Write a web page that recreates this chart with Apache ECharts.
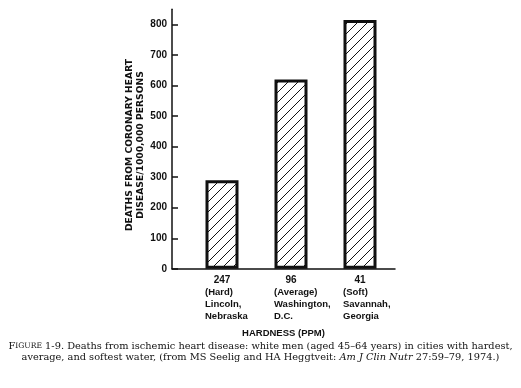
<!DOCTYPE html>
<html>
<head>
<meta charset="utf-8">
<script src="https://cdn.jsdelivr.net/npm/echarts@6/dist/echarts.min.js"></script>
<style>
html,body{margin:0;padding:0;background:#fff;}
#chart{width:521px;height:388px;}
</style>
</head>
<body>
<div id="chart"></div>
<script>
// ---- data ----
const hardness = ['247', '96', '41'];
const hardnessClass = ['(Hard)', '(Average)', '(Soft)'];
const cityLine1 = ['Lincoln,', 'Washington,', 'Savannah,'];
const cityLine2 = ['Nebraska', 'D.C.', 'Georgia'];
const deaths = [290, 620, 815];
const yTicks = [0, 100, 200, 300, 400, 500, 600, 700, 800];

// hatch pattern
const pc = document.createElement('canvas');
pc.width = 10; pc.height = 10;
const ctx = pc.getContext('2d');
ctx.fillStyle = '#fff'; ctx.fillRect(0, 0, 10, 10);
ctx.strokeStyle = '#111'; ctx.lineWidth = 1;
ctx.beginPath();
ctx.moveTo(-1, 11); ctx.lineTo(11, -1);
ctx.moveTo(-1, 1); ctx.lineTo(1, -1);
ctx.moveTo(9, 11); ctx.lineTo(11, 9);
ctx.stroke();

const font = 'Liberation Sans, Arial, Helvetica, sans-serif';
const wide = 'DejaVu Sans, Liberation Sans, sans-serif';
const serif = 'DejaVu Serif, Liberation Serif, serif';

const cap = {fontFamily: serif, fontSize: 9.8, fontWeight: 'normal', color: '#111', lineHeight: 11, align: 'center'};

const chart = echarts.init(document.getElementById('chart'), null, {renderer: 'canvas'});
chart.setOption({
  animation: false,
  backgroundColor: '#fff',
  title: {
    left: 'center',
    top: 336,
    text: '{sc1|F}{sc2|IGURE} {r|1-9. Deaths from ischemic heart disease: white men (aged 45\u201364 years) in cities with hardest,}\n' +
          '{r|average, and softest water, (from MS Seelig and HA Heggtveit: }{i|Am J Clin Nutr}{r| 27:59\u201379, 1974.)}',
    textStyle: {
      fontFamily: serif, fontSize: 9.8, fontWeight: 'normal', color: '#111', lineHeight: 11,
      rich: {
        sc1: cap,
        sc2: Object.assign({}, cap, {fontSize: 7.6}),
        r: cap,
        i: Object.assign({}, cap, {fontStyle: 'italic'})
      }
    }
  },
  grid: [
    {left: 187.5, width: 207, top: 9.2, bottom: 119.2},
    {left: 172, width: 223, top: 9.2, bottom: 119.2}
  ],
  xAxis: [
    {
      gridIndex: 0, type: 'category', data: hardness,
      axisLine: {show: false}, axisTick: {show: false},
      axisLabel: {
        margin: 5, interval: 0, hideOverlap: false,
        formatter: function (v, i) {
          return '{n|' + hardness[i] + '}\n{t|' + hardnessClass[i] + '}\n{t|' + cityLine1[i] + '}\n{t|' + cityLine2[i] + '}';
        },
        rich: {
          n: {width: 34, align: 'center', fontFamily: font, fontWeight: 'bold', fontSize: 10, color: '#111', lineHeight: 13},
          t: {width: 34, align: 'left', fontFamily: font, fontWeight: 'bold', fontSize: 9.5, color: '#111', lineHeight: 12}
        }
      }
    },
    {
      gridIndex: 1, type: 'value', min: 0, max: 1,
      axisLine: {show: true, lineStyle: {color: '#111', width: 1.5}},
      axisTick: {show: false}, axisLabel: {show: false}, splitLine: {show: false},
      name: 'HARDNESS (PPM)', nameLocation: 'middle', nameGap: 60,
      nameTextStyle: {fontFamily: font, fontWeight: 'bold', fontSize: 9.5, color: '#111'}
    }
  ],
  yAxis: [
    {gridIndex: 0, type: 'value', min: 0, max: 850, show: false},
    {
      gridIndex: 1, type: 'value', min: 0, max: 850, interval: 100,
      axisLine: {show: true, lineStyle: {color: '#111', width: 1.5}},
      axisTick: {show: true, inside: true, length: 6, customValues: yTicks, lineStyle: {color: '#111', width: 1.5}},
      axisLabel: {customValues: yTicks, margin: 5, fontFamily: font, fontWeight: 'bold', fontSize: 10, color: '#111'},
      splitLine: {show: false},
      name: 'DEATHS FROM CORONARY HEART\nDISEASE/1000,000 PERSONS',
      nameLocation: 'middle', nameRotate: 90, nameGap: 19,
      nameTextStyle: {fontFamily: wide, fontWeight: 'bold', fontSize: 9.2, color: '#111', lineHeight: 11, align: 'center', padding: [0, 12, 0, 0]}
    }
  ],
  series: [{
    type: 'bar', xAxisIndex: 0, yAxisIndex: 0,
    data: deaths, barWidth: 33,
    itemStyle: {color: {image: pc, repeat: 'repeat'}, borderColor: '#111', borderWidth: 3},
    z: 5
  }]
});
</script>
</body>
</html>
